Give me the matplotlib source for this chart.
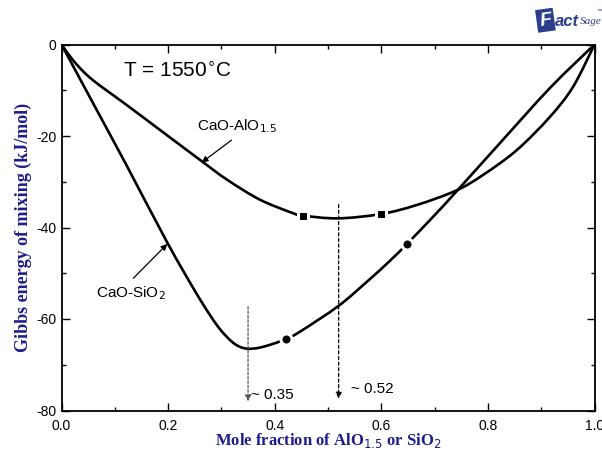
import numpy as np
import matplotlib
matplotlib.use('Agg')
import matplotlib.pyplot as plt
from matplotlib.path import Path
from matplotlib.patches import PathPatch
from matplotlib.ticker import MultipleLocator, FormatStrFormatter

# Gibbs energy of mixing at 1550 C (kJ/mol)
x_alo = [0.0, 0.02, 0.04, 0.06, 0.09, 0.122, 0.185, 0.263, 0.31, 0.372, 0.435, 0.4525,
         0.519, 0.5994, 0.666, 0.74, 0.791, 0.854, 0.9165, 0.96, 1.0]
g_alo = [0.0, -3.2, -5.8, -7.9, -10.5, -13.2, -18.7, -25.5, -29.5, -33.9, -36.9, -37.4,
         -38.0, -37.05, -35.1, -31.95, -28.5, -23.1, -15.8, -9.2, 0.0]

x_sio = [0.0, 0.06, 0.122, 0.1985, 0.25, 0.28, 0.30, 0.32, 0.335, 0.35, 0.37, 0.395,
         0.4206, 0.447, 0.519, 0.5726, 0.616, 0.649, 0.6976, 0.7396, 0.823, 0.9165, 1.0]
g_sio = [0.0, -13.0, -26.4, -43.3, -53.8, -59.4, -62.6, -65.0, -66.1, -66.5, -66.3, -65.5,
         -64.4, -62.8, -57.2, -51.9, -47.3, -43.5, -37.6, -32.3, -21.5, -9.5, 0.0]

# marked compositions on each curve
x_alo_pts = [0.4525, 0.5994]
g_alo_pts = [-37.4, -37.05]
x_sio_pts = [0.4206, 0.649]
g_sio_pts = [-64.4, -43.5]

# approximate minima positions
x_min_sio = 0.35
x_min_alo = 0.52

navy = '#1c1c8c'
logo_blue = '#2b3e8c'
plt.rcParams['font.family'] = ['Liberation Sans', 'DejaVu Sans']


def smooth_curve(ax, xs, ys, **kw):
    # cubic Bezier segments through the points (Catmull-Rom tangents)
    pts = np.column_stack([xs, ys])
    n = len(pts)
    verts = [pts[0]]
    codes = [Path.MOVETO]
    for i in range(n - 1):
        p0 = pts[max(i - 1, 0)]
        p1 = pts[i]
        p2 = pts[i + 1]
        p3 = pts[min(i + 2, n - 1)]
        verts += [p1 + (p2 - p0) / 6.0, p2 - (p3 - p1) / 6.0, p2]
        codes += [Path.CURVE4] * 3
    ax.add_patch(PathPatch(Path(verts, codes), fill=False, **kw))


fig = plt.figure(figsize=(6.02, 4.5), dpi=100)
ax = fig.add_axes([61.5 / 602, 1 - 410.5 / 450, 533 / 602, 366 / 450])

smooth_curve(ax, x_alo, g_alo, ec='black', lw=1.9, zorder=2, capstyle='round')
smooth_curve(ax, x_sio, g_sio, ec='black', lw=1.9, zorder=2, capstyle='round')
ax.plot(x_alo_pts, g_alo_pts, 's', color='black', ms=6.5, mec='white', mew=2.2, zorder=3)
ax.plot(x_sio_pts, g_sio_pts, 'o', color='black', ms=8, mec='white', mew=2.2, zorder=3)

# dashed drop lines to the minima
ax.annotate('', xy=(x_min_sio, -78.0), xytext=(x_min_sio, -57.3),
            arrowprops=dict(arrowstyle='-|>', color='#555555', lw=0.9,
                            linestyle=(0, (2, 1.5)), mutation_scale=9,
                            shrinkA=0, shrinkB=0))
ax.annotate('', xy=(x_min_alo, -77.4), xytext=(x_min_alo, -35.0),
            arrowprops=dict(arrowstyle='-|>', color='black', lw=0.9,
                            linestyle=(0, (2.5, 2)), mutation_scale=9,
                            shrinkA=0, shrinkB=0))
ax.text(0.355, -76.6, '~ 0.35', fontsize=11, va='center', ha='left')
ax.text(0.5426, -75.3, '~ 0.52', fontsize=11, va='center', ha='left')

ax.text(0.116, -5.9, 'T = 1550$^{\\circ}$C', fontsize=15, va='center', ha='left')

# curve labels with pointer arrows
ax.text(0.2537, -17.8, 'CaO-AlO$_{1.5}$', fontsize=11, va='center', ha='left')
ax.annotate('', xy=(0.263, -25.8), xytext=(0.319, -20.9),
            arrowprops=dict(arrowstyle='-|>', color='black', lw=0.9, mutation_scale=9,
                            shrinkA=0, shrinkB=0))
ax.text(0.0647, -54.4, 'CaO-SiO$_2$', fontsize=11, va='center', ha='left')
ax.annotate('', xy=(0.1985, -43.6), xytext=(0.1347, -51.1),
            arrowprops=dict(arrowstyle='-|>', color='black', lw=0.9, mutation_scale=9,
                            shrinkA=0, shrinkB=0))

ax.set_xlim(0, 1)
ax.set_ylim(-80, 0)
ax.xaxis.set_major_locator(MultipleLocator(0.2))
ax.xaxis.set_minor_locator(MultipleLocator(0.1))
ax.yaxis.set_major_locator(MultipleLocator(20))
ax.yaxis.set_minor_locator(MultipleLocator(10))
ax.xaxis.set_major_formatter(FormatStrFormatter('%.1f'))
ax.yaxis.set_major_formatter(FormatStrFormatter('%d'))
ax.tick_params(which='both', direction='in', top=True, right=True, labelsize=10)
ax.tick_params(which='major', length=6, width=1)
ax.tick_params(which='minor', length=3, width=1)
ax.tick_params(axis='x', pad=6)
for s in ax.spines.values():
    s.set_linewidth(1.3)

ax.set_xlabel('Mole fraction of AlO$_{1.5}$ or SiO$_2$', fontsize=12, fontweight='bold',
              color=navy, family='Liberation Serif', labelpad=-1)
ax.set_ylabel('Gibbs energy of mixing (kJ/mol)', fontsize=13, fontweight='bold',
              color=navy, family='Liberation Serif', labelpad=3)

# logo in the top right corner
fig.text(0.906, 0.955, 'F', fontsize=14, fontweight='bold', color='white', ha='center',
         va='center', style='italic', rotation=8,
         bbox=dict(boxstyle='square,pad=0.15', fc=logo_blue, ec='none'))
fig.text(0.921, 0.952, 'act', fontsize=12, fontweight='bold', color=logo_blue,
         ha='left', va='center', style='italic')
fig.text(0.963, 0.952, 'Sage', fontsize=8, color=logo_blue, ha='left', va='center',
         style='italic', family='Liberation Serif')
fig.text(0.9995, 0.975, '\u2122', fontsize=4, color=logo_blue, ha='right', va='center')

fig.savefig('out.png', dpi=100)
